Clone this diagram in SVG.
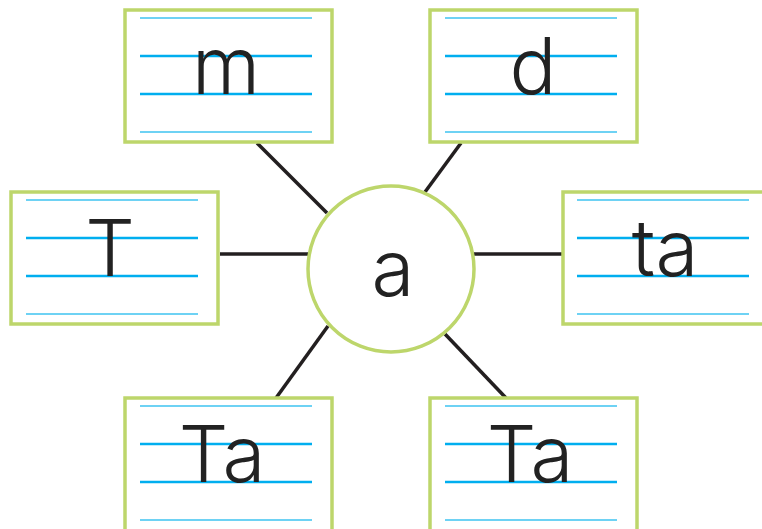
<svg xmlns="http://www.w3.org/2000/svg" width="762" height="529" viewBox="0 0 762 529">
<style>
.box{fill:#fff;stroke:#bdd66b;stroke-width:3.5}
.thin{stroke:#3ec3f0;stroke-width:1.5}
.thick{stroke:#00aeef;stroke-width:2.5}
.lbl{font-family:Inter,"Open Sans","DejaVu Sans",sans-serif;font-size:78px;fill:#222;text-anchor:middle;font-weight:300}
.conn{stroke:#231f20;stroke-width:3.5;fill:none}
</style>
<defs>
<g id="lines">
<line class="thin" x1="0" y1="8" x2="172" y2="8"/>
<line class="thick" x1="0" y1="46" x2="172" y2="46"/>
<line class="thick" x1="0" y1="84" x2="172" y2="84"/>
<line class="thin" x1="0" y1="122" x2="172" y2="122"/>
</g>
</defs>
<rect width="762" height="529" fill="#fff"/>
<g id="connectors">
<line class="conn" x1="257" y1="143" x2="327" y2="213"/>
<line class="conn" x1="461" y1="143" x2="425" y2="192"/>
<line class="conn" x1="220" y1="254" x2="308" y2="254"/>
<line class="conn" x1="474" y1="254" x2="562" y2="254"/>
<line class="conn" x1="328" y1="326" x2="276" y2="398"/>
<line class="conn" x1="445" y1="334" x2="506" y2="398"/>
</g>
<g id="node-m">
<rect class="box" x="125" y="10" width="207" height="132"/>
<use href="#lines" x="140" y="10"/>
<text class="lbl" x="226" y="94">m</text>
</g>
<g id="node-d">
<rect class="box" x="430" y="10" width="207" height="132"/>
<use href="#lines" x="445" y="10"/>
<text class="lbl" x="533" y="94">d</text>
</g>
<g id="node-T">
<rect class="box" x="11" y="192" width="207" height="132"/>
<use href="#lines" x="26" y="192"/>
<text class="lbl" x="110" y="276">T</text>
</g>
<g id="node-ta">
<rect class="box" x="563" y="192" width="207" height="132"/>
<use href="#lines" x="577" y="192"/>
<text class="lbl" x="665" y="276">ta</text>
</g>
<g id="node-Ta-left">
<rect class="box" x="125" y="398" width="207" height="140"/>
<use href="#lines" x="140" y="398"/>
<text class="lbl" x="222" y="482">Ta</text>
</g>
<g id="node-Ta-right">
<rect class="box" x="430" y="398" width="207" height="140"/>
<use href="#lines" x="445" y="398"/>
<text class="lbl" x="530" y="482">Ta</text>
</g>
<g id="node-a">
<circle cx="391" cy="269" r="83" fill="#fff" stroke="#bdd66b" stroke-width="3.5"/>
<text class="lbl" x="393" y="296">a</text>
</g>
</svg>
